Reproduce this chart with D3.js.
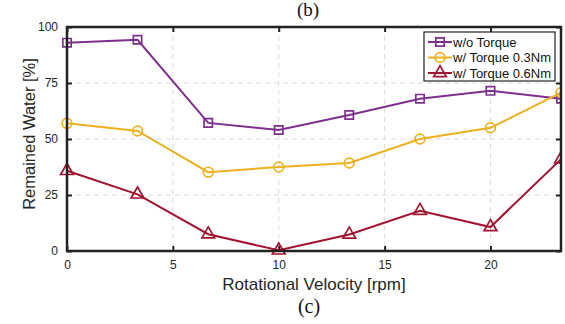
<!DOCTYPE html>
<html>
<head>
<meta charset="utf-8">
<script src="https://cdn.jsdelivr.net/npm/d3@7"></script>
<style>
  body { margin: 0; background: #fff; }
  svg { display: block; }
</style>
</head>
<body>
<div id="chart"></div>
<script>
// data
var velocity = [0, 3.33, 6.67, 10, 13.33, 16.67, 20, 23.33];
var noTorque = [93, 94.3, 57.2, 54, 60.7, 68, 71.5, 68];
var torque03 = [57, 53.6, 35.2, 37.5, 39.3, 50, 55, 70.7];
var torque06 = [35.8, 25.3, 7.5, 0.3, 7.4, 18, 10.7, 41];
var xTicks = [0, 5, 10, 15, 20];
var yTicks = [0, 25, 50, 75, 100];
var seriesNames = ["w/o Torque", "w/ Torque 0.3Nm", "w/ Torque 0.6Nm"];
var seriesColors = ["#7E2F8E", "#EDB120", "#A2142F"];
var seriesMarkers = ["square", "circle", "triangle"];

function init(){

    var w = 565, h = 324;
    var left = 67, right = 561, top = 27, bottom = 251;

    var svg = d3.select("#chart").append("svg")
        .attr("width", w)
        .attr("height", h);

    var x = d3.scaleLinear().domain([0, 23.33]).range([left, right]);
    var y = d3.scaleLinear().domain([0, 100]).range([bottom, top]);

    // grid
    svg.append("g").selectAll("line")
        .data(xTicks.slice(1))
        .enter().append("line")
        .attr("x1", d => x(d)).attr("x2", d => x(d))
        .attr("y1", top).attr("y2", bottom)
        .attr("stroke", "#dcdcdc").attr("stroke-width", 1)
        .attr("stroke-dasharray", "5,4");
    svg.append("g").selectAll("line")
        .data(yTicks.slice(1, -1))
        .enter().append("line")
        .attr("x1", left).attr("x2", right)
        .attr("y1", d => y(d)).attr("y2", d => y(d))
        .attr("stroke", "#dcdcdc").attr("stroke-width", 1)
        .attr("stroke-dasharray", "5,4");

    // axes, ticks inward
    var axB = svg.append("g").attr("transform", "translate(0," + bottom + ")")
        .call(d3.axisBottom(x).tickValues(xTicks).tickSize(-5).tickPadding(9));
    var axT = svg.append("g").attr("transform", "translate(0," + top + ")")
        .call(d3.axisTop(x).tickValues(xTicks).tickSize(-5).tickFormat(""));
    var axL = svg.append("g").attr("transform", "translate(" + left + ",0)")
        .call(d3.axisLeft(y).tickValues(yTicks).tickSize(-5).tickPadding(9));
    var axR = svg.append("g").attr("transform", "translate(" + right + ",0)")
        .call(d3.axisRight(y).tickValues(yTicks).tickSize(-5).tickFormat(""));

    [axB, axT, axL, axR].forEach(function(g){
        g.select(".domain").remove();
        g.selectAll(".tick line").attr("stroke", "#222").attr("stroke-width", 2);
        g.selectAll("text")
            .attr("fill", "#262626")
            .style("font-family", "Liberation Sans, Arial, sans-serif")
            .style("font-size", "12px");
    });

    var allSeries = [noTorque, torque03, torque06];

    var line = d3.line()
        .x((d, i) => x(velocity[i]))
        .y(d => y(d));

    var symbolTypes = {
        square: d3.symbolSquare,
        circle: d3.symbolCircle,
        triangle: d3.symbolTriangle
    };
    var symbolSizes = { square: 70, circle: 75, triangle: 70 };

    svg.append("clipPath").attr("id", "plotclip")
        .append("rect").attr("x", left - 8).attr("y", top - 8)
        .attr("width", right - left + 8).attr("height", bottom - top + 16);

    allSeries.forEach(function(vals, k){
        var g = svg.append("g").attr("clip-path", "url(#plotclip)");
        g.append("path")
            .datum(vals)
            .attr("d", line)
            .attr("fill", "none")
            .attr("stroke", seriesColors[k])
            .attr("stroke-width", 2);
        g.selectAll("path.mk")
            .data(vals)
            .enter().append("path")
            .attr("class", "mk")
            .attr("transform", (d, i) => "translate(" + x(velocity[i]) + "," + y(d) + ")")
            .attr("d", d3.symbol().type(symbolTypes[seriesMarkers[k]]).size(symbolSizes[seriesMarkers[k]]))
            .attr("fill", "none")
            .attr("stroke", seriesColors[k])
            .attr("stroke-width", 1.7);
    });

    // frame
    svg.append("rect")
        .attr("x", left).attr("y", top)
        .attr("width", right - left).attr("height", bottom - top)
        .attr("fill", "none")
        .attr("stroke", "#222")
        .attr("stroke-width", 2.5);

    // legend
    var lg = svg.append("g").attr("transform", "translate(424,32)");
    lg.append("rect")
        .attr("width", 131).attr("height", 49)
        .attr("fill", "#fff")
        .attr("stroke", "#222").attr("stroke-width", 1.2);
    seriesNames.forEach(function(name, k){
        var ry = 10 + k * 15.5;
        lg.append("line")
            .attr("x1", 4).attr("x2", 28)
            .attr("y1", ry).attr("y2", ry)
            .attr("stroke", seriesColors[k]).attr("stroke-width", 2);
        lg.append("path")
            .attr("transform", "translate(16," + ry + ")")
            .attr("d", d3.symbol().type(symbolTypes[seriesMarkers[k]]).size(symbolSizes[seriesMarkers[k]]))
            .attr("fill", "none")
            .attr("stroke", seriesColors[k]).attr("stroke-width", 1.7);
        lg.append("text")
            .attr("x", 29).attr("y", ry + 4.5)
            .attr("fill", "#111")
            .style("font-family", "Liberation Sans, Arial, sans-serif")
            .style("font-size", "13px")
            .text(name);
    });

    // labels
    svg.append("text")
        .attr("x", 314).attr("y", 290)
        .attr("text-anchor", "middle")
        .attr("fill", "#262626")
        .style("font-family", "Liberation Sans, Arial, sans-serif")
        .style("font-size", "17px")
        .text("Rotational Velocity [rpm]");

    svg.append("text")
        .attr("transform", "translate(35,134) rotate(-90)")
        .attr("text-anchor", "middle")
        .attr("fill", "#262626")
        .style("font-family", "Liberation Sans, Arial, sans-serif")
        .style("font-size", "16.5px")
        .text("Remained Water [%]");

    svg.append("text")
        .attr("x", 308).attr("y", 16)
        .attr("text-anchor", "middle")
        .attr("fill", "#111")
        .style("font-family", "Liberation Serif, Times New Roman, serif")
        .style("font-size", "19px")
        .text("(b)");

    svg.append("text")
        .attr("x", 309).attr("y", 313)
        .attr("text-anchor", "middle")
        .attr("fill", "#111")
        .style("font-family", "Liberation Serif, Times New Roman, serif")
        .style("font-size", "20px")
        .text("(c)");
}
window.onload = init;
</script>
</body>
</html>
